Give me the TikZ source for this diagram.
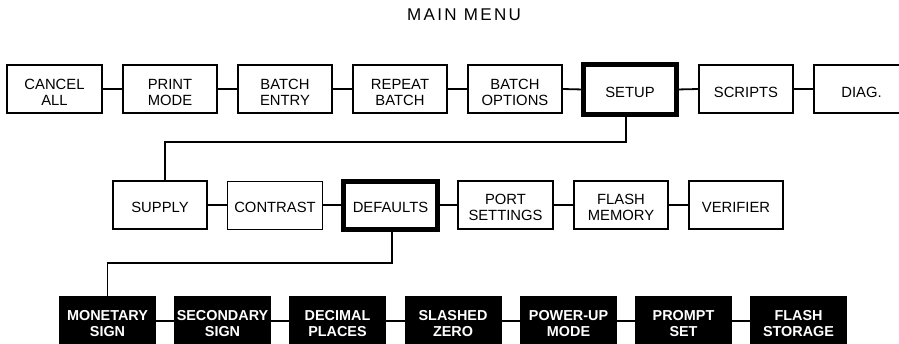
\documentclass[tikz,border=0pt]{standalone}
\usepackage{fontspec}
\setmainfont{Liberation Sans}
\begin{document}
\begin{tikzpicture}[x=1pt,y=-1pt,
  box/.style={draw,line width=1.8pt,minimum width=94.5pt,minimum height=48pt,inner sep=0pt,outer sep=0pt},
  thinbox/.style={box,line width=0.9pt},
  boldbox/.style={box,line width=5pt},
  blackbox/.style={fill=black,draw=none,minimum width=97pt,minimum height=50pt,inner sep=0pt,outer sep=0pt},
  lbl/.style={align=center,inner sep=0pt,font=\fontsize{14.8}{16}\selectfont},
  wlbl/.style={align=center,inner sep=0pt,text=white,font=\fontsize{14.4}{16}\selectfont\bfseries},
  conn/.style={line width=1.8pt}]
\useasboundingbox (0,0) rectangle (899,343);
\clip (0,0) rectangle (899,343);
\node[lbl,font=\fontsize{17}{19}\selectfont\addfontfeatures{LetterSpace=14}] (title) at (464,15) {MAIN MENU};
% top row
\node[box] (cancel) at (54.5,89) {};
\node[box] (print) at (170,89) {};
\node[box] (bentry) at (285,89) {};
\node[box] (repeat) at (400,89) {};
\node[box] (bopt) at (515,89) {};
\node[boldbox,minimum width=93pt,minimum height=50pt] (setup) at (630,89.5) {};
\node[box] (scripts) at (746,89) {};
\node[box] (diag) at (861.5,89) {};
\node[lbl] at ([yshift=-3pt]cancel.center) {CANCEL\\ALL};
\node[lbl] at ([yshift=-3pt]print.center) {PRINT\\MODE};
\node[lbl] at ([yshift=-3pt]bentry.center) {BATCH\\ENTRY};
\node[lbl] at ([yshift=-3pt]repeat.center) {REPEAT\\BATCH};
\node[lbl] at ([yshift=-3pt]bopt.center) {BATCH\\OPTIONS};
\node[lbl] at ([yshift=-2.5pt]setup.center) {SETUP};
\node[lbl] at ([yshift=-3pt]scripts.center) {SCRIPTS};
\node[lbl] at ([yshift=-3pt]diag.center) {DIAG.};
\foreach \a/\b in {cancel/print,print/bentry,bentry/repeat,repeat/bopt,bopt/setup,setup/scripts,scripts/diag}
  \draw[conn] (\a.east) -- (\b.west);
% second row
\node[box] (supply) at (160,205) {};
\node[thinbox] (contrast) at (275,205) {};
\node[boldbox,minimum width=94pt] (defaults) at (390.5,205) {};
\node[box] (port) at (505.5,205) {};
\node[box] (fmem) at (621,205) {};
\node[box] (verifier) at (736,205) {};
\node[lbl] at ([yshift=-2pt]supply.center) {SUPPLY};
\node[lbl] at ([yshift=-2pt]contrast.center) {CONTRAST};
\node[lbl] at ([yshift=-2pt]defaults.center) {DEFAULTS};
\node[lbl] at ([yshift=-2pt]port.center) {PORT\\SETTINGS};
\node[lbl] at ([yshift=-2pt]fmem.center) {FLASH\\MEMORY};
\node[lbl] at ([yshift=-2pt]verifier.center) {VERIFIER};
\foreach \a/\b in {supply/contrast,contrast/defaults,defaults/port,port/fmem,fmem/verifier}
  \draw[conn] (\a.east) -- (\b.west);
% third row
\node[blackbox] (monetary) at (107.5,321) {};
\node[blackbox] (secondary) at (222.5,321) {};
\node[blackbox] (decimal) at (337.5,321) {};
\node[blackbox] (slashed) at (453,321) {};
\node[blackbox] (powerup) at (568.5,321) {};
\node[blackbox] (prompt) at (683.5,321) {};
\node[blackbox] (fstorage) at (798.5,321) {};
\node[wlbl] at ([yshift=-2.5pt]monetary.center) {MONETARY\\SIGN};
\node[wlbl] at ([yshift=-2.5pt]secondary.center) {SECONDARY\\SIGN};
\node[wlbl] at ([yshift=-2.5pt]decimal.center) {DECIMAL\\PLACES};
\node[wlbl] at ([yshift=-2.5pt]slashed.center) {SLASHED\\ZERO};
\node[wlbl] at ([yshift=-2.5pt]powerup.center) {POWER-UP\\MODE};
\node[wlbl] at ([yshift=-2.5pt]prompt.center) {PROMPT\\SET};
\node[wlbl] at ([yshift=-2.5pt]fstorage.center) {FLASH\\STORAGE};
\foreach \a/\b in {monetary/secondary,secondary/decimal,decimal/slashed,slashed/powerup,powerup/prompt,prompt/fstorage}
  \draw[conn] (\a.east) -- (\b.west);
% tree connectors
\coordinate (j1) at (626,142);
\coordinate (j2) at (392,263);
\draw[conn] ([xshift=-4pt]setup.south) -- (j1) -| ([xshift=5pt]supply.north);
\draw[conn] ([xshift=1.5pt]defaults.south) -- (j2) -| (monetary.north);
\end{tikzpicture}
\end{document}
